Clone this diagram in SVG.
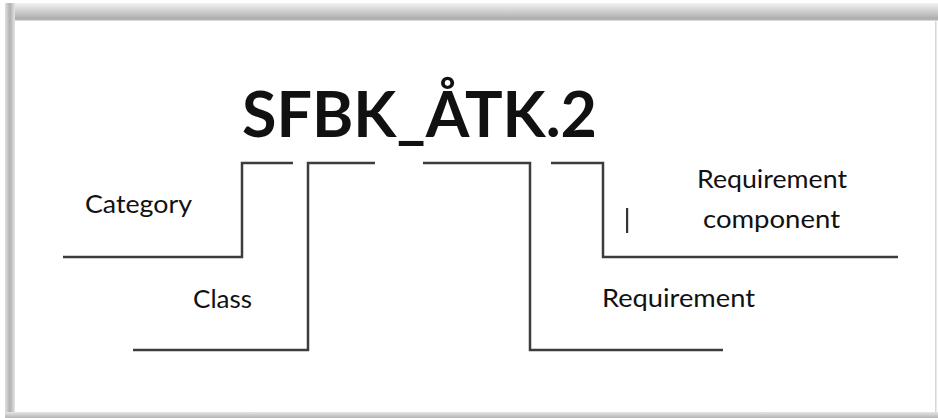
<svg xmlns="http://www.w3.org/2000/svg" width="938" height="418" viewBox="0 0 938 418">
<defs>
<linearGradient id="gTop" x1="0" y1="0" x2="0" y2="1">
<stop offset="0" stop-color="#f2f2f2"/>
<stop offset="0.6" stop-color="#c4c4c4"/>
<stop offset="0.9" stop-color="#aaaaaa"/>
<stop offset="1" stop-color="#e8e8e8"/>
</linearGradient>
<linearGradient id="gLeft" x1="0" y1="0" x2="1" y2="0">
<stop offset="0" stop-color="#e0e0e0"/>
<stop offset="0.5" stop-color="#b0b0b0"/>
<stop offset="1" stop-color="#e4e4e4"/>
</linearGradient>
<linearGradient id="gBot" x1="0" y1="0" x2="0" y2="1">
<stop offset="0" stop-color="#e6e6e6"/>
<stop offset="1" stop-color="#b4b4b4"/>
</linearGradient>
</defs>
<style>
.ln{fill:none;stroke:#3c3c3c;stroke-width:2.5;stroke-linejoin:miter}
.lbl{font-family:Lato,"Liberation Sans",sans-serif;font-size:25px;fill:#111}
.ttl{font-family:Lato,"Liberation Sans",sans-serif;font-size:64px;font-weight:bold;fill:#111}
</style>
<rect x="0" y="0" width="938" height="418" fill="#ffffff"/>
<g id="frame">
<rect x="5" y="3" width="933" height="18" fill="url(#gTop)"/>
<rect x="5" y="3" width="10" height="415" fill="url(#gLeft)"/>
<rect x="5" y="412" width="933" height="6" fill="url(#gBot)"/>
<rect x="935" y="21" width="1.5" height="391" fill="#d6d6d6"/>
</g>
<g id="title">
<text class="ttl" x="242" y="137" textLength="355" lengthAdjust="spacingAndGlyphs">SFBK_ÅTK.2</text>
</g>
<g id="connectors">
<polyline class="ln" points="63,257 242,257 242,163 293,163"/>
<polyline class="ln" points="133,350 308,350 308,163 375,163"/>
<polyline class="ln" points="423,163 530,163 530,350 723,350"/>
<polyline class="ln" points="551,163 603,163 603,257 898,257"/>
</g>
<g id="category">
<text class="lbl" x="85" y="213" textLength="107" lengthAdjust="spacingAndGlyphs">Category</text>
</g>
<g id="class">
<text class="lbl" x="193" y="308" textLength="59" lengthAdjust="spacingAndGlyphs">Class</text>
</g>
<g id="requirement">
<text class="lbl" x="602" y="307" textLength="153" lengthAdjust="spacingAndGlyphs">Requirement</text>
</g>
<g id="requirement-component">
<text class="lbl" x="697" y="188" textLength="150" lengthAdjust="spacingAndGlyphs">Requirement</text>
<text class="lbl" x="703" y="228" textLength="137" lengthAdjust="spacingAndGlyphs">component</text>
<rect x="626" y="208" width="2.2" height="25" fill="#333"/>
</g>
</svg>
